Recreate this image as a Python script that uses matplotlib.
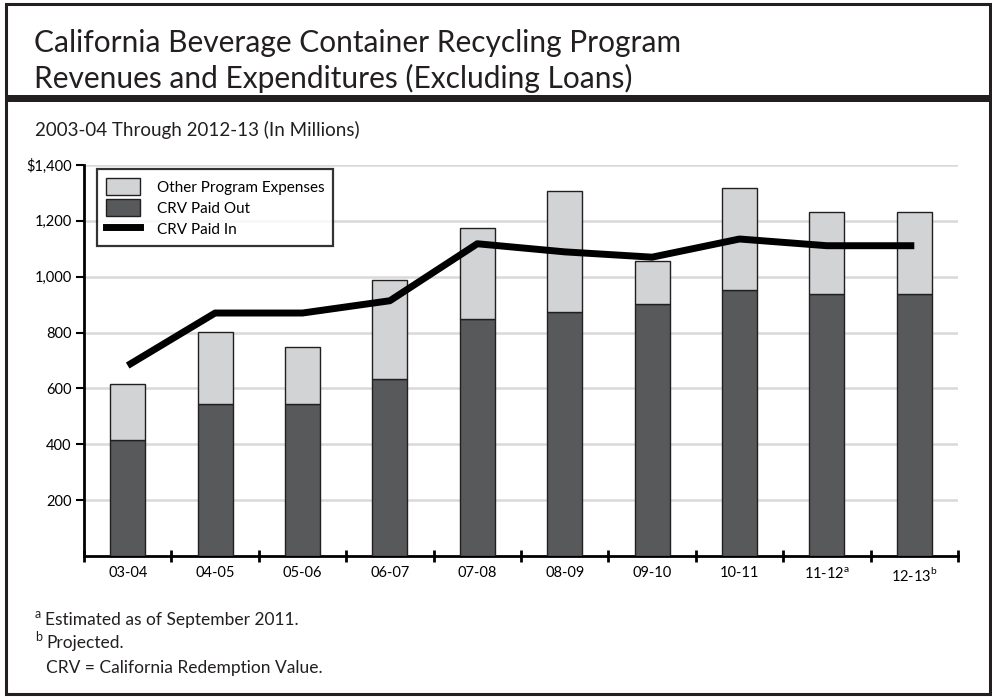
import numpy as np
import matplotlib
matplotlib.use("Agg")
import matplotlib.pyplot as plt
from matplotlib.patches import Rectangle, Patch
from matplotlib.lines import Line2D

# ------------------------------------------------------------
# Data (millions of dollars)
# ------------------------------------------------------------
years = ["03-04", "04-05", "05-06", "06-07", "07-08",
         "08-09", "09-10", "10-11", "11-12", "12-13"]
year_notes = ["", "", "", "", "", "", "", "", "a", "b"]
crv_paid_out = [414, 545, 545, 635, 850, 872, 903, 953, 938, 938]
other_expenses = [201, 258, 205, 352, 323, 435, 152, 363, 292, 295]
crv_paid_in = [682, 870, 870, 914, 1118, 1089, 1070, 1135, 1111, 1111]
y_ticks = [200, 400, 600, 800, 1000, 1200, 1400]

plt.rcParams["font.family"] = ["Lato", "DejaVu Sans"]
plt.rcParams["mathtext.fontset"] = "custom"
plt.rcParams["mathtext.rm"] = "Lato"

W, H = 992, 698
fig = plt.figure(figsize=(W / 100, H / 100), dpi=100)


def px(x, y):
    # pixel coords (from top-left) -> figure fraction
    return x / W, 1 - y / H


# ------------------------------------------------------------
# Frame and title block
# ------------------------------------------------------------
fig.add_artist(Rectangle((6 / W, 4 / H), (984 / W), (690 / H),
                         transform=fig.transFigure, fill=False,
                         edgecolor="#231f20", lw=2.2))
fig.add_artist(Rectangle((6 / W, 1 - 102 / H), 984 / W, 7 / H,
                         transform=fig.transFigure, color="#231f20", lw=0))

fig.text(*px(34, 43), "California Beverage Container Recycling Program",
         fontsize=21.5, va="center", ha="left", color="#231f20")
fig.text(*px(34, 78), "Revenues and Expenditures (Excluding Loans)",
         fontsize=21.5, va="center", ha="left", color="#231f20")
fig.text(*px(35, 130), "2003-04 Through 2012-13 (In Millions)",
         fontsize=13.5, va="center", ha="left", color="#231f20")

# ------------------------------------------------------------
# Chart
# ------------------------------------------------------------
ax = fig.add_axes([84 / W, 1 - 556 / H, 874 / W, 391 / H])
x = np.arange(len(years))

ax.bar(x, crv_paid_out, width=0.4, color="#58595b",
       edgecolor="#231f20", linewidth=1, zorder=3)
ax.bar(x, other_expenses, width=0.4, bottom=crv_paid_out, color="#d1d3d4",
       edgecolor="#231f20", linewidth=1, zorder=3)
ax.plot(x, crv_paid_in, color="black", linewidth=5,
        solid_capstyle="butt", zorder=4)

ax.set_xlim(-0.5, len(years) - 0.5)
ax.set_ylim(0, 1400)
ax.set_yticks(y_ticks)
ax.set_yticklabels([("$" if v == 1400 else "") + f"{v:,}" for v in y_ticks],
                   fontsize=10.5)
ax.yaxis.grid(True, color="#d9d9d9", linewidth=1.8, zorder=0)
ax.set_axisbelow(True)

labels = [y + (f"$^{{\\mathrm{{{n}}}}}$" if n else "")
          for y, n in zip(years, year_notes)]
ax.set_xticks(x)
ax.set_xticklabels(labels, fontsize=10.5)
ax.tick_params(axis="x", length=0, pad=7)
ax.set_xticks(np.arange(-0.5, len(years)), minor=True)
ax.tick_params(axis="x", which="minor", length=9, width=2,
               direction="inout", color="black")
ax.tick_params(axis="y", length=6, width=1.5, color="black", pad=3)

for side in ["top", "right"]:
    ax.spines[side].set_visible(False)
ax.spines["left"].set_linewidth(2)
ax.spines["bottom"].set_linewidth(2)

handles = [Patch(facecolor="#d1d3d4", edgecolor="#231f20", linewidth=1),
           Patch(facecolor="#58595b", edgecolor="#231f20", linewidth=1),
           Line2D([0], [0], color="black", linewidth=5)]
leg = ax.legend(handles, ["Other Program Expenses", "CRV Paid Out", "CRV Paid In"],
                loc="upper left", bbox_to_anchor=(0.0149, 0.99),
                borderaxespad=0, fancybox=False, fontsize=11,
                handlelength=2.2, handleheight=1.3, labelspacing=0.3,
                borderpad=0.6, handletextpad=1.1)
leg.get_frame().set_edgecolor("black")
leg.get_frame().set_linewidth(1.6)
leg.set_zorder(5)

# ------------------------------------------------------------
# Footnotes
# ------------------------------------------------------------
fig.text(*px(35, 614), "a", fontsize=9, va="center", ha="left", color="#231f20")
fig.text(*px(45, 620), "Estimated as of September 2011.",
         fontsize=12.5, va="center", ha="left", color="#231f20")
fig.text(*px(35, 637), "b", fontsize=9, va="center", ha="left", color="#231f20")
fig.text(*px(46, 643), "Projected.",
         fontsize=12.5, va="center", ha="left", color="#231f20")
fig.text(*px(46, 668), "CRV = California Redemption Value.",
         fontsize=12.5, va="center", ha="left", color="#231f20")

fig.savefig("out.png", dpi=100)
